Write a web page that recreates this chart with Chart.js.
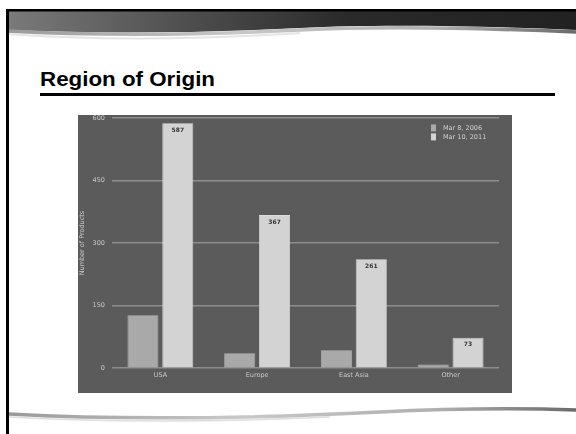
<!DOCTYPE html>
<html>
<head>
<meta charset="utf-8">
<script src="https://cdn.jsdelivr.net/npm/chart.js@4.4.1/dist/chart.umd.min.js"></script>
<style>
  html, body { margin: 0; padding: 0; background: #ffffff; }
  body { width: 576px; height: 434px; position: relative; overflow: hidden; }
  #deco { position: absolute; left: 0; top: 0; }
  #title {
    position: absolute; left: 40px; top: 67px;
    font: bold 20.5px "Liberation Sans", Arial, sans-serif; color: #000;
    transform: scaleX(1.09); transform-origin: left top; white-space: nowrap;
  }
  #rule { position: absolute; left: 40px; top: 93px; width: 515px; height: 3px; background: #000; }
  #panel {
    position: absolute; left: 78px; top: 115px; width: 434px; height: 278px;
    background: #5b5b5b; overflow: hidden;
  }
  #wrap { position: absolute; left: 0; top: -8px; width: 434px; height: 286px; }
</style>
</head>
<body>
<svg id="deco" width="576" height="434" viewBox="0 0 576 434">
  <defs>
    <linearGradient id="band" x1="0" y1="0" x2="1" y2="0">
      <stop offset="0" stop-color="#7a7a7a"/>
      <stop offset="0.35" stop-color="#4a4a4a"/>
      <stop offset="0.6" stop-color="#2a2a2a"/>
      <stop offset="1" stop-color="#222222"/>
    </linearGradient>
    <linearGradient id="swoosh" x1="0" y1="0" x2="1" y2="0">
      <stop offset="0" stop-color="#9a9a9a"/>
      <stop offset="0.4" stop-color="#c8c8c8"/>
      <stop offset="0.75" stop-color="#b0b0b0"/>
      <stop offset="1" stop-color="#6a6a6a"/>
    </linearGradient>
  </defs>
  <!-- header band with wavy lower edge -->
  <path d="M7 10 L576 10 L576 30 C480 26 380 24 300 28 C200 33 100 34 7 30 Z" fill="url(#band)"/>
  <path d="M7 31 C100 36 200 35 300 30 C380 26 480 28 576 32" fill="none" stroke="url(#swoosh)" stroke-width="3.5"/>
  <path d="M7 34 C90 40 190 40 300 33" fill="none" stroke="#d8d8d8" stroke-width="2" opacity="0.7"/>
  <rect x="7" y="9" width="569" height="2.5" fill="#000"/>
  <!-- left frame edge -->
  <rect x="6" y="9" width="3" height="425" fill="#000"/>
  <!-- footer swoosh -->
  <path d="M9 414 C120 420 260 418 380 412 C460 408 520 408 576 410" fill="none" stroke="url(#swoosh)" stroke-width="3.5"/>
  <path d="M9 417 C120 423 240 421 330 417" fill="none" stroke="#cfcfcf" stroke-width="1.5" opacity="0.7"/>
</svg>
<div id="title">Region of Origin</div>
<div id="rule"></div>
<div id="panel"><div id="wrap"><canvas id="c"></canvas></div></div>
<script>
// Products by region of origin, two snapshot dates
const regions = ["USA", "Europe", "East Asia", "Other"];
const seriesNames = ["Mar 8, 2006", "Mar 10, 2011"];
const values2006 = [127, 36, 43, 9];
const values2011 = [587, 367, 261, 73];
const yTicks = [0, 150, 300, 450, 600];

const colors = ["#a9a9a9", "#d3d3d3"];
const tickColor = "#c9c9c9";
const chartFont = "'DejaVu Sans', 'Open Sans', sans-serif";

// value labels inside the top of the newer bars
const valueLabels = {
  id: "valueLabels",
  afterDatasetsDraw(chart) {
    const ctx = chart.ctx;
    const meta = chart.getDatasetMeta(1);
    ctx.save();
    ctx.font = "bold 6px " + chartFont;
    ctx.fillStyle = "#333333";
    ctx.textAlign = "center";
    ctx.textBaseline = "middle";
    meta.data.forEach((bar, i) => {
      ctx.fillText(String(chart.data.datasets[1].data[i]), bar.x, bar.y + 7);
    });
    ctx.restore();
  }
};

// compact stacked legend in the upper right of the plot
const cornerLegend = {
  id: "cornerLegend",
  afterDraw(chart) {
    const ctx = chart.ctx;
    const area = chart.chartArea;
    const x = area.right - 68;
    let y = area.top + 10;
    ctx.save();
    ctx.font = "6.5px " + chartFont;
    ctx.textBaseline = "middle";
    ctx.textAlign = "left";
    chart.data.datasets.forEach(ds => {
      ctx.fillStyle = ds.backgroundColor;
      ctx.fillRect(x, y - 3.5, 5, 7);
      ctx.fillStyle = "#d0d0d0";
      ctx.fillText(ds.label, x + 12, y);
      y += 9;
    });
    ctx.restore();
  }
};

new Chart(document.getElementById("c"), {
  type: "bar",
  data: {
    labels: regions,
    datasets: [
      { label: seriesNames[0], data: values2006, backgroundColor: colors[0],
        borderColor: "#b4b4b4", borderWidth: 0.8 },
      { label: seriesNames[1], data: values2011, backgroundColor: colors[1],
        borderColor: "#dedede", borderWidth: 0.8 }
    ]
  },
  options: {
    responsive: true,
    maintainAspectRatio: false,
    animation: false,
    categoryPercentage: 0.72,
    barPercentage: 0.89,
    layout: { padding: { top: 1, right: 13, bottom: 11, left: 0 } },
    plugins: {
      legend: { display: false },
      tooltip: { enabled: false }
    },
    scales: {
      x: {
        grid: { display: false, drawTicks: false },
        border: { display: false },
        ticks: { color: tickColor, font: { family: chartFont, size: 6.5 }, padding: 3 }
      },
      y: {
        min: 0, max: 600,
        afterBuildTicks(scale) { scale.ticks = yTicks.map(v => ({ value: v })); },
        afterFit(scale) { scale.width = 34; },
        grid: { color: "#8d8d8d", lineWidth: 1.5, drawTicks: false },
        border: { display: false },
        ticks: { color: tickColor, font: { family: chartFont, size: 6.5 }, padding: 7 },
        title: {
          display: true, text: "Number of Products", color: tickColor,
          font: { family: chartFont, size: 6.5 }, padding: { top: 0, bottom: 0 }
        }
      }
    }
  },
  plugins: [valueLabels, cornerLegend]
});
</script>
</body>
</html>
